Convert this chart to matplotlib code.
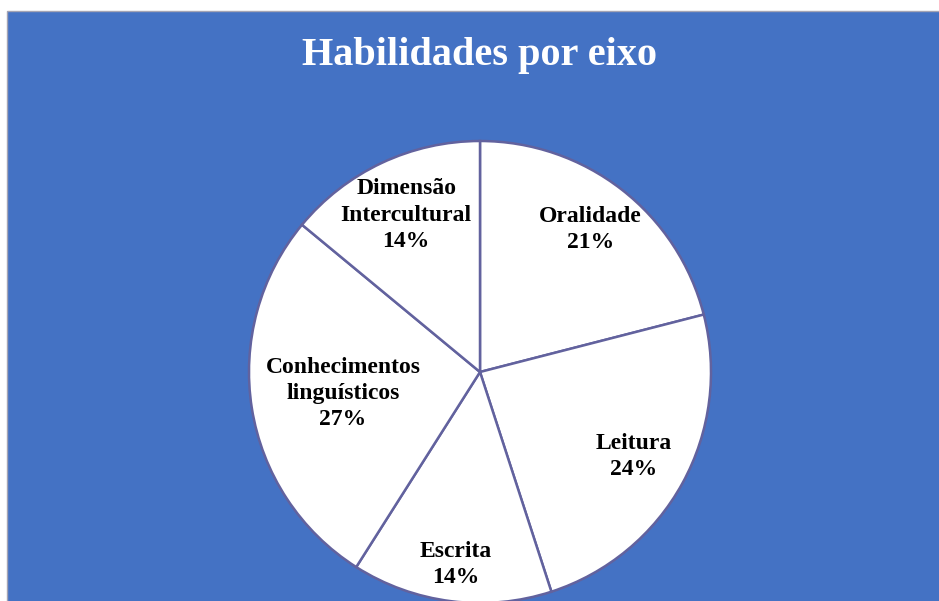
import numpy as np
import matplotlib.pyplot as plt
from matplotlib.patches import Rectangle

plt.rcParams['font.family'] = ['Liberation Serif', 'DejaVu Serif']

# Habilidades por eixo (percent)
eixos = ["Oralidade", "Leitura", "Escrita", "Conhecimentos\nlinguísticos", "Dimensão\nIntercultural"]
valores = [21, 24, 14, 27, 14]
label_dist = [0.78, 0.76, 0.84, 0.60, 0.75]

W, H = 939, 601
fig = plt.figure(figsize=(W / 100, H / 100), dpi=100)
fig.patch.set_facecolor("white")
ax = fig.add_axes([0, 0, 1, 1])

# blue chart area with thin grey frame on top/left
ax.add_patch(Rectangle((7, -5), W, H - 11 + 5, facecolor="#4472C4",
                       edgecolor="#A4A4B4", linewidth=1.0, zorder=0))

cx, cy, r = 480, H - 372, 231
wedges, _ = ax.pie(valores, startangle=90, counterclock=False, center=(cx, cy), radius=r,
                   colors=["white"] * len(valores),
                   wedgeprops=dict(edgecolor="#62629E", linewidth=1.8))

for w, nome, v, d in zip(wedges, eixos, valores, label_dist):
    ang = np.deg2rad((w.theta1 + w.theta2) / 2)
    ax.text(cx + d * r * np.cos(ang), cy + d * r * np.sin(ang), f"{nome}\n{v}%",
            ha="center", va="center", fontsize=17, fontweight="bold",
            color="black", linespacing=1.33, zorder=5)

ax.text(480, H - 55, "Habilidades por eixo", ha="center", va="center",
        fontsize=29, fontweight="bold", color="white")

ax.set_xlim(0, W)
ax.set_ylim(0, H)
ax.set_aspect("equal")
ax.axis("off")

fig.savefig("out.png", dpi=100, facecolor=fig.get_facecolor())
